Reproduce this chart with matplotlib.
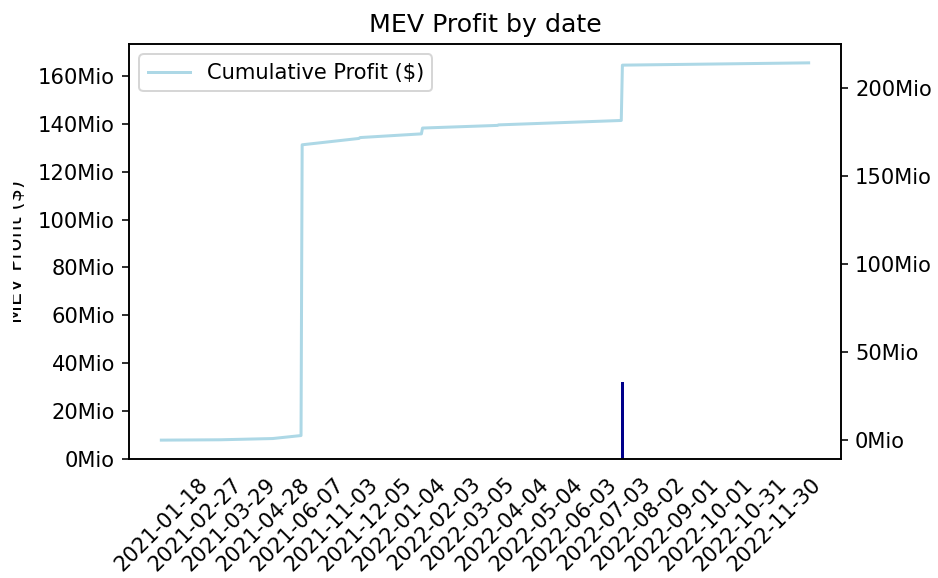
import matplotlib
matplotlib.use('Agg')
import matplotlib.pyplot as plt
from matplotlib.patches import Rectangle
from matplotlib.ticker import FuncFormatter, MultipleLocator

plt.rcParams['font.size'] = 10.5

# number of dates (categories) on the x axis
n_days = 571
tick_labels = ['2021-01-18', '2021-02-27', '2021-03-29', '2021-04-28', '2021-06-07',
               '2021-11-03', '2021-12-05', '2022-01-04', '2022-02-03', '2022-03-05',
               '2022-04-04', '2022-05-04', '2022-06-03', '2022-07-03', '2022-08-02',
               '2022-09-01', '2022-10-01', '2022-10-31', '2022-11-30']
tick_step = 30

# daily MEV profit (visible bars), in Mio $
bar_idx = [406]
bar_val = [32.3]

# cumulative profit, in Mio $
cum_idx = [0, 52, 98, 123, 124, 174, 175, 229, 230, 296, 297, 405, 406, 570]
cum_val = [0.1, 0.3, 1.0, 2.7, 167.7, 171.3, 171.8, 173.9, 177.2, 178.7, 179.0, 181.5, 212.9, 214.2]

mio = FuncFormatter(lambda x, p: f'{int(round(x / 1e6))}Mio')

fig = plt.figure(figsize=(938 / 144, 578 / 144), dpi=144)
ax1 = fig.add_axes([0.1375, 0.2059, 0.7591, 0.718])

ax1.bar(bar_idx, [v * 1e6 for v in bar_val], width=2, color='darkblue')
ax1.set_ylim(0, 173.3e6)
ax1.yaxis.set_major_locator(MultipleLocator(20e6))
ax1.yaxis.set_major_formatter(mio)
ax1.set_ylabel('MEV Profit ($)')
ax1.yaxis.set_label_coords(-0.145, 0.5)

ax2 = ax1.twinx()
ax2.plot(cum_idx, [v * 1e6 for v in cum_val], color='lightblue', linewidth=1.5,
         label='Cumulative Profit ($)')
ax2.yaxis.set_major_locator(MultipleLocator(50e6))
ax2.yaxis.set_major_formatter(mio)
ax2.legend(loc='upper left')

ax1.set_xlim(-28.5, 598.5)
ax1.set_xticks(range(0, tick_step * len(tick_labels), tick_step))
ax1.set_xticklabels(tick_labels, rotation=45)
ax1.tick_params(axis='x', length=0, pad=7.5)

ax1.set_title('MEV Profit by date')

# the original image is cropped through the y label
fig.patches.append(Rectangle((0, 0), 13 / 938, 1, transform=fig.transFigure,
                             facecolor='white', edgecolor='none', zorder=10))

plt.savefig('out.png', dpi=144)
